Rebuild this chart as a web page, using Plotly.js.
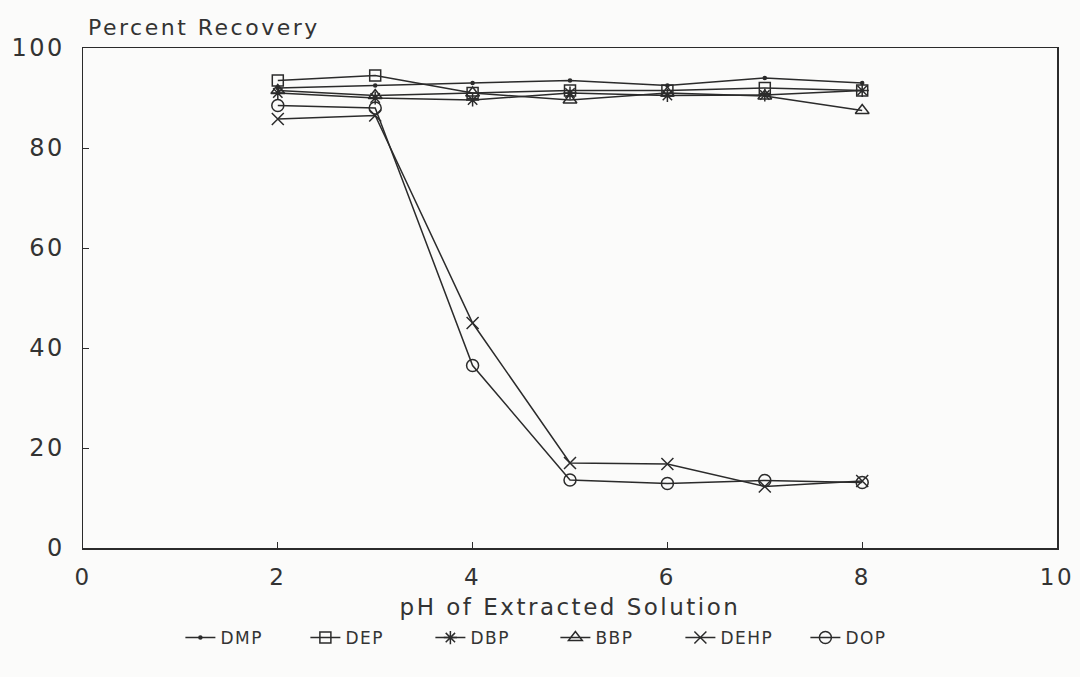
<!DOCTYPE html>
<html>
<head>
<meta charset="utf-8">
<script src="https://cdn.plot.ly/plotly-3.0.1.min.js"></script>
<style>
  html, body { margin: 0; padding: 0; background: #fbfbfa; }
  #chart { width: 1080px; height: 677px; }
  /* wide, plotter-style lettering */
  #chart text { letter-spacing: 2.5px; }
  #chart .legendtext { letter-spacing: 1.5px; }
</style>
</head>
<body>
<div id="chart"></div>
<script>
// pH values of the extracted solution
const phValues = [2, 3, 4, 5, 6, 7, 8];

// Percent recovery for each phthalate ester
const dmp  = [92.0, 92.5, 93.0, 93.5, 92.5, 94.0, 93.0];
const dep  = [93.5, 94.5, 91.0, 91.5, 91.5, 92.0, 91.5];
const dbp  = [91.0, 90.0, 89.6, 91.0, 90.5, 90.6, 91.5];
const bbp  = [91.5, 90.5, 91.0, 89.6, 91.0, 90.4, 87.5];
const dehp = [85.8, 86.5, 45.0, 17.0, 16.8, 12.3, 13.4];
const dop  = [88.5, 88.0, 36.5, 13.6, 12.9, 13.5, 13.1];

const seriesNames = ['DMP', 'DEP', 'DBP', 'BBP', 'DEHP', 'DOP'];
const seriesData = [dmp, dep, dbp, bbp, dehp, dop];
const symbols = ['circle', 'square-open', 'asterisk-open', 'triangle-up-open', 'x-thin-open', 'circle-open'];
const sizes = [3, 11, 11, 12, 12, 12];

const ink = '#2b2b2b';
const fontFamily = 'DejaVu Sans, Liberation Sans, sans-serif';

const traces = seriesNames.map((name, i) => ({
  x: phValues,
  y: seriesData[i],
  name: name,
  type: 'scatter',
  mode: 'lines+markers',
  line: { color: ink, width: 1.5 },
  marker: {
    symbol: symbols[i],
    size: sizes[i],
    color: ink,
    line: { color: ink, width: 1.5 }
  }
}));

const layout = {
  width: 1080,
  height: 677,
  paper_bgcolor: '#fbfbfa',
  plot_bgcolor: '#fbfbfa',
  margin: { l: 83, r: 23, t: 48, b: 129 },
  font: { family: fontFamily, color: '#333', size: 22 },
  showlegend: true,
  legend: {
    orientation: 'h',
    x: 0.485,
    xanchor: 'center',
    y: -0.18,
    yanchor: 'middle',
    font: { family: fontFamily, size: 17, color: '#333' },
    bgcolor: 'rgba(0,0,0,0)',
    entrywidth: 80,
    itemwidth: 30
  },
  xaxis: {
    range: [0, 10],
    tickvals: [0, 2, 4, 6, 8, 10],
    ticks: 'inside',
    ticklen: 6,
    tickcolor: ink,
    showgrid: false,
    zeroline: false,
    showline: true,
    mirror: true,
    linecolor: ink,
    linewidth: 1.5,
    tickfont: { family: fontFamily, size: 23, color: '#333' },
    ticklabelstandoff: 8,
    title: {
      text: 'pH of Extracted Solution',
      font: { family: fontFamily, size: 23, color: '#333' },
      standoff: 10
    }
  },
  yaxis: {
    range: [0, 100],
    tickvals: [0, 20, 40, 60, 80, 100],
    ticks: 'inside',
    ticklen: 6,
    tickcolor: ink,
    showgrid: false,
    zeroline: false,
    showline: true,
    mirror: true,
    linecolor: ink,
    linewidth: 1.5,
    tickfont: { family: fontFamily, size: 24, color: '#333' },
    ticklabelstandoff: 12
  },
  annotations: [{
    text: 'Percent Recovery',
    xref: 'paper', yref: 'paper',
    x: 0.024, y: 1.04,
    xanchor: 'left', yanchor: 'middle',
    showarrow: false,
    font: { family: fontFamily, size: 22, color: '#333' }
  }]
};

Plotly.newPlot('chart', traces, layout, { displayModeBar: false, staticPlot: true });
</script>
</body>
</html>
